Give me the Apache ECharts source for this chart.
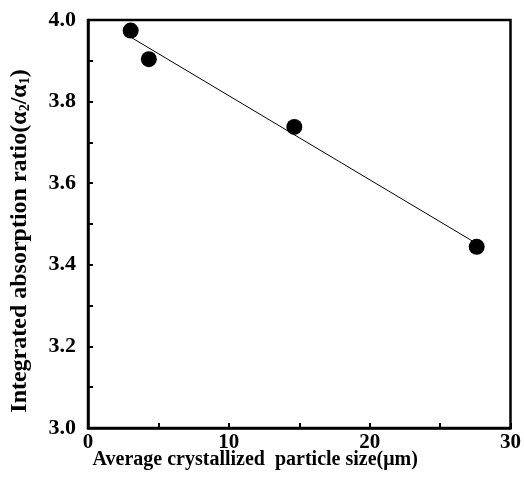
<!DOCTYPE html>
<html>
<head>
<meta charset="utf-8">
<script src="https://cdn.jsdelivr.net/npm/echarts@6/dist/echarts.min.js"></script>
<style>
  html, body { margin: 0; padding: 0; background: #fff; }
  #main { width: 524px; height: 489px; }
</style>
</head>
<body>
<div id="main"></div>
<script>
// measured points
var sizeX = [3.03, 4.32, 14.65, 27.6];
var ratioY = [3.974, 3.904, 3.738, 3.444];
// least-squares fit line end points
var fitX = [3.03, 27.6];
var fitY = [3.958, 3.452];

var font = 'Liberation Serif';
var chart = echarts.init(document.getElementById('main'));

var option = {
    backgroundColor: '#fff',
    animation: false,
    grid: {
        left: 87, right: 11, top: 20, bottom: 61,
        show: true, borderColor: '#000', borderWidth: 2.5
    },
    xAxis: {
        type: 'value',
        min: 0, max: 30, interval: 10,
        name: 'Average crystallized  particle size(\u03bcm)',
        nameLocation: 'middle',
        nameGap: 22,
        nameMoveOverlap: false,
        nameTextStyle: {
            fontFamily: font, fontWeight: 'bold', fontSize: 20, color: '#000',
            padding: [0, 88, 0, 0]
        },
        axisLine: { lineStyle: { color: '#000', width: 2.5 } },
        axisTick: { inside: true, length: 5, lineStyle: { color: '#000', width: 2 } },
        minorTick: { show: true, splitNumber: 2, length: 5, lineStyle: { color: '#000', width: 2 } },
        splitLine: { show: false },
        axisLabel: {
            margin: 4,
            fontFamily: font, fontWeight: 'bold', fontSize: 21, color: '#000'
        }
    },
    yAxis: {
        type: 'value',
        min: 3.0, max: 4.0, interval: 0.2,
        name: '{t|Integrated absorption ratio(\u03b1}{s|2}{t|/\u03b1}{s|1}{t|)}',
        nameLocation: 'middle',
        nameRotate: 90,
        nameGap: 56,
        nameTextStyle: {
            padding: [0, 34, 0, 0],
            rich: {
                t: { fontFamily: font, fontWeight: 'bold', fontSize: 24, color: '#000' },
                s: { fontFamily: font, fontWeight: 'bold', fontSize: 14, color: '#000', verticalAlign: 'bottom', padding: [8, 0, 0, 0] }
            }
        },
        axisLine: { lineStyle: { color: '#000', width: 2.5 } },
        axisTick: { inside: true, length: 5, lineStyle: { color: '#000', width: 2 } },
        minorTick: { show: true, splitNumber: 2, length: 5, lineStyle: { color: '#000', width: 2 } },
        splitLine: { show: false },
        axisLabel: {
            margin: 12,
            fontFamily: font, fontWeight: 'bold', fontSize: 22, color: '#000',
            formatter: function (v) { return v.toFixed(1); }
        }
    },
    series: [
        {
            type: 'line',
            data: fitX.map(function (x, i) { return [x, fitY[i]]; }),
            showSymbol: false,
            lineStyle: { color: '#000', width: 1 },
            z: 2
        },
        {
            type: 'scatter',
            data: sizeX.map(function (x, i) { return [x, ratioY[i]]; }),
            symbol: 'circle',
            symbolSize: 16,
            itemStyle: { color: '#000', opacity: 1 },
            z: 3
        }
    ]
};
chart.setOption(option);
</script>
</body>
</html>
